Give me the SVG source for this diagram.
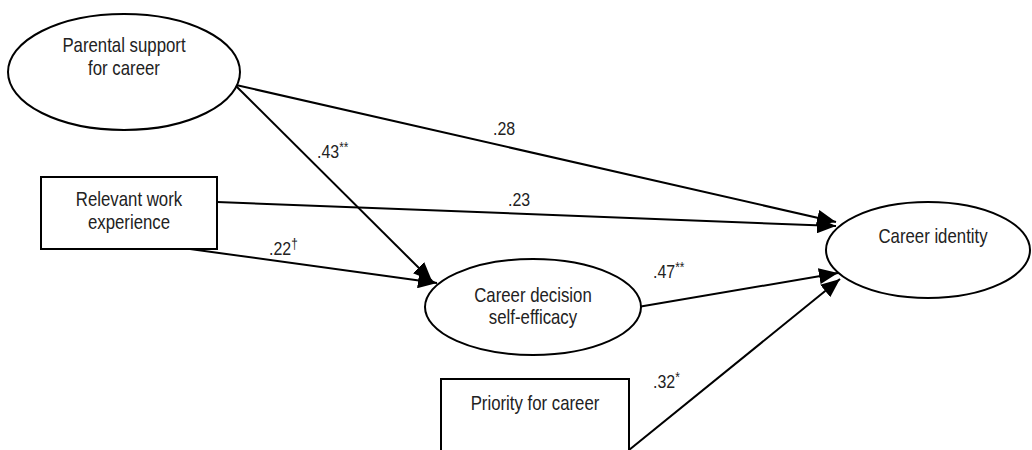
<svg xmlns="http://www.w3.org/2000/svg" width="1032" height="450" viewBox="0 0 1032 450">
<style>
.shape{fill:#fff;stroke:#000;stroke-width:2}
.lbl{font-family:"Liberation Sans Narrow","Arial Narrow","Liberation Sans",sans-serif;font-size:20px;fill:#222;text-anchor:middle}
.coef{font-family:"Liberation Sans Narrow","Arial Narrow","Liberation Sans",sans-serif;font-size:19px;fill:#222}
.sup{font-size:14px}
.edge{fill:none;stroke:#000;stroke-width:2;marker-end:url(#arrow)}
</style>
<defs>
<marker id="arrow" markerUnits="userSpaceOnUse" markerWidth="20" markerHeight="16" refX="19" refY="8" orient="auto">
<path d="M0,0 L19,8 L0,16 z" fill="#000"/>
</marker>
</defs>
<rect width="1032" height="450" fill="#fff"/>
<g id="connectors">
<line class="edge" x1="236" y1="85" x2="836" y2="222"/>
<line class="edge" x1="217" y1="202" x2="836" y2="226"/>
<line class="edge" x1="236" y1="86" x2="432" y2="281"/>
<line class="edge" x1="190" y1="249" x2="437" y2="283"/>
<line class="edge" x1="632" y1="308" x2="838" y2="273"/>
<line class="edge" x1="629" y1="450" x2="840" y2="279"/>
</g>
<g id="labels">
<text class="coef" transform="matrix(0.84 0 0 1 493 0)" x="0" y="135">.28</text>
<text class="coef" transform="matrix(0.84 0 0 1 317 0)" x="0" y="158">.43<tspan class="sup" dy="-6">**</tspan></text>
<text class="coef" transform="matrix(0.84 0 0 1 508 0)" x="0" y="206">.23</text>
<text class="coef" transform="matrix(0.84 0 0 1 269 0)" x="0" y="255">.22<tspan class="sup" dy="-6">†</tspan></text>
<text class="coef" transform="matrix(0.84 0 0 1 653 0)" x="0" y="278">.47<tspan class="sup" dy="-6">**</tspan></text>
<text class="coef" transform="matrix(0.84 0 0 1 653 0)" x="0" y="388">.32<tspan class="sup" dy="-6">*</tspan></text>
</g>
<g id="parental">
<ellipse class="shape" cx="124" cy="72" rx="116" ry="58"/>
<text class="lbl" transform="matrix(0.84 0 0 1 124 0)" x="0" y="52">Parental support</text>
<text class="lbl" transform="matrix(0.84 0 0 1 124 0)" x="0" y="75">for career</text>
</g>
<g id="relevant">
<rect class="shape" x="41" y="177" width="176" height="72"/>
<text class="lbl" transform="matrix(0.84 0 0 1 129 0)" x="0" y="206">Relevant work</text>
<text class="lbl" transform="matrix(0.84 0 0 1 129 0)" x="0" y="229">experience</text>
</g>
<g id="decision">
<ellipse class="shape" cx="533" cy="307" rx="108" ry="48"/>
<text class="lbl" transform="matrix(0.84 0 0 1 533 0)" x="0" y="302">Career decision</text>
<text class="lbl" transform="matrix(0.84 0 0 1 533 0)" x="0" y="324">self-efficacy</text>
</g>
<g id="identity">
<ellipse class="shape" cx="928" cy="250" rx="102" ry="48"/>
<text class="lbl" transform="matrix(0.84 0 0 1 933 0)" x="0" y="243">Career identity</text>
</g>
<g id="priority">
<rect class="shape" x="441" y="379" width="188" height="90"/>
<text class="lbl" transform="matrix(0.84 0 0 1 535 0)" x="0" y="410">Priority for career</text>
</g>
</svg>
